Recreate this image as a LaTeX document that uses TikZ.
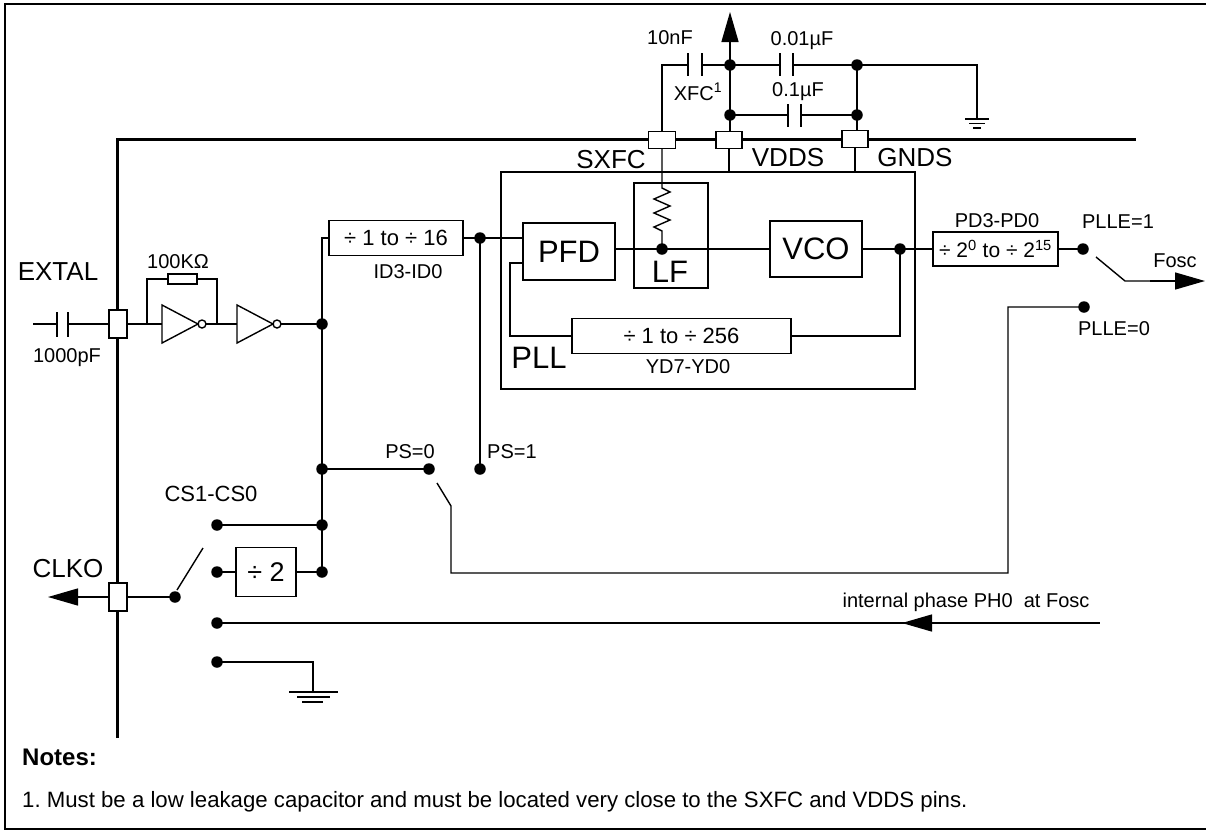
\documentclass[tikz,border=0pt]{standalone}
\usepackage{fontspec}
\setmainfont{Liberation Sans}
\usetikzlibrary{arrows.meta}
\frenchspacing
\begin{document}
\begin{tikzpicture}[x=1pt,y=-1pt,
  wire/.style={line width=1.4pt},
  chipline/.style={line width=3pt},
  blk/.style={draw,line width=1.4pt,inner sep=0pt,fill=white},
  pinbox/.style={draw,line width=1.4pt,fill=white,inner sep=0pt},
  jdot/.style={circle,fill=black,inner sep=0pt,minimum size=11.5pt},
  sm/.style={font=\fontsize{20}{24}\selectfont,inner sep=0pt},
  md/.style={font=\fontsize{22}{26}\selectfont,inner sep=0pt},
  lg/.style={font=\fontsize{26}{30}\selectfont,inner sep=0pt},
  xl/.style={font=\fontsize{31}{36}\selectfont,inner sep=0pt},
  arr/.style={-{Triangle[length=30pt,width=17pt]}}
]
\useasboundingbox (0,0) rectangle (1206,831);
% outer frame
\draw[line width=2.5pt] (1212,4) -- (5,4) -- (5,829) -- (1212,829);
% chip boundary
\draw[chipline] (117,738) -- (117,139) -- (1136,139);

% ---------- coordinates
\coordinate (vtop) at (730,65);
\coordinate (vmid) at (730,115);
\coordinate (gtop) at (857,65);
\coordinate (gmid) at (857,115);
\coordinate (gnd1) at (977,119);
\coordinate (lfdot) at (662,249);
\coordinate (vcodot) at (900,249);
\coordinate (fbc) at (510,263);
\coordinate (iddot) at (480,238);
\coordinate (ps1) at (480,469);
\coordinate (ps0) at (429,469);
\coordinate (n1) at (322,324);
\coordinate (n2) at (322,469);
\coordinate (n3) at (322,525);
\coordinate (n4) at (322,572);
\coordinate (plle1) at (1083,249);
\coordinate (plle0) at (1084,307);
\coordinate (sw) at (175,597);
\coordinate (c1) at (217,525);
\coordinate (c2) at (217,572);
\coordinate (c3) at (217,623);
\coordinate (c4) at (217,662);
\coordinate (gnd2) at (313,692);
\coordinate (phend) at (1100,623);
\coordinate (phtip) at (902,623);
\coordinate (fosc) at (1205,281);
\coordinate (vout) at (730,12);
\coordinate (clkout) at (48,597);

% ---------- blocks
\node[blk,fill=none,minimum width=414pt,minimum height=217pt] (pll) at (708,280.5) {};
\node[blk,minimum width=74pt,minimum height=105pt] (lf) at (671,235.5) {};
\node[blk,xl,minimum width=92pt,minimum height=57pt] (pfd) at (569,251.5) {PFD};
\node[blk,xl,minimum width=92pt,minimum height=56pt] (vco) at (816,249) {VCO};
\node[blk,md,minimum width=219pt,minimum height=35pt] (fbdiv) at (681.5,336) {÷ 1 to ÷ 256};
\node[blk,md,minimum width=134pt,minimum height=35pt] (iddiv) at (396,238) {÷ 1 to ÷ 16};
\node[blk,font=\fontsize{21}{25}\selectfont,minimum width=125pt,minimum height=34pt] (pddiv) at (995.5,249) {÷ 2\textsuperscript{0} to ÷ 2\textsuperscript{15}};
\node[blk,font=\fontsize{27}{31}\selectfont,minimum width=60pt,minimum height=49pt] (div2) at (266,572) {÷ 2};
\node[blk,minimum width=29pt,minimum height=10pt] (rfb) at (182.5,279) {};

% ---------- top supply network
\draw[wire,arr] (vtop) -- (vout);
\draw[wire] (662,139) -- (662,65) -- (688,65);
\draw[wire] (688,53) -- (688,76) (702,53) -- (702,76);
\draw[wire] (702,65) -- (vtop) -- (780,65);
\draw[wire] (780,53) -- (780,76) (793,53) -- (793,76);
\draw[wire] (793,65) -- (gtop) -| (gnd1);
\draw[wire] (vtop) -- (vmid) -- (788,115);
\draw[wire] (788,104) -- (788,127) (801,104) -- (801,127);
\draw[wire] (801,115) -- (gmid);
\draw[wire] (gtop) -- (gmid) -- (857,139);
\draw[wire] (vmid) -- (730,139);
\draw[wire] (965,119) -- (989,119) (969,123.5) -- (985,123.5) (973,128) -- (981,128);
% pins into PLL
\draw[wire] (729,139) -- (729,172);
\draw[wire] (855,139) -- (855,172);
\draw[wire] (662,139) -- (662,188) -- (670,192) -- (654,199) -- (670,206) -- (654,213) -- (670,220) -- (654,227) -- (662,231) -- (lfdot);

% ---------- PLL wiring
\draw[wire] (pfd.east |- lfdot) -- (lfdot) -- (vco.west |- lfdot);
\draw[wire] (vco.east) -- (vcodot) -- (pddiv.west);
\draw[wire] (vcodot) |- (fbdiv.east);
\draw[wire] (fbdiv.west) -| (fbc) -- (pfd.west |- fbc);
\draw[wire] (iddiv.east) -- (iddot) -- (pfd.west |- iddot);
\draw[wire] (iddot) -- (ps1);
\draw[wire] (pddiv.east) -- (plle1);
\draw[wire] (1096,257) -- (1125,281) -- (1170,281);
\draw[wire,arr] (1150,281) -- (fosc);
\draw[wire] (437,483) -- (451,506) -- (451,573) -- (1008,573) -- (1008,307) -- (plle0);

% ---------- EXTAL / oscillator
\draw[wire] (33,324) -- (57,324) (68,324) -- (109,324);
\draw[wire] (57,312) -- (57,337) (68,312) -- (68,337);
\draw[wire] (127,324) -- (162,324);
\draw[wire] (147,324) |- (rfb.west);
\draw[wire] (rfb.east) -| (217,324);
\draw[wire] (162,305) -- (162,343) -- (198,324) -- cycle;
\draw[wire] (202,324) circle (4);
\draw[wire] (206,324) -- (237,324);
\draw[wire] (237,305) -- (237,343) -- (273,324) -- cycle;
\draw[wire] (277,324) circle (4);
\draw[wire] (281,324) -- (n1);
\draw[wire] (iddiv.west) -| (n1);
\draw[wire] (n1) -- (n4);
\draw[wire] (n2) -- (ps0);

% ---------- CLKO selector
\draw[wire,arr] (109,597) -- (clkout);
\draw[wire] (127,597) -- (sw);
\draw[wire] (177,590) -- (203,548);
\draw[wire] (c1) -- (n3);
\draw[wire] (c2) -- (div2.west);
\draw[wire] (div2.east) -- (n4);
\draw[wire] (c3) -- (phend);
\draw[arr,line width=1.4pt] (1050,623) -- (phtip);
\draw[wire] (c4) -| (gnd2);
\draw[wire] (289,692) -- (338,692) (297,697) -- (330,697) (302,702) -- (323,702);

% ---------- pins
\node[pinbox,minimum width=27pt,minimum height=17pt] (pinsxfc) at (662,140) {};
\node[pinbox,minimum width=26pt,minimum height=17pt] (pinvdds) at (729,140) {};
\node[pinbox,minimum width=26pt,minimum height=17pt] (pingnds) at (855,139) {};
\node[pinbox,minimum width=18pt,minimum height=28pt] (pinextal) at (118,324) {};
\node[pinbox,minimum width=18pt,minimum height=28pt] (pinclko) at (118,597) {};

% ---------- dots
\foreach \p in {vtop,vmid,gtop,gmid,lfdot,vcodot,iddot,ps1,ps0,n1,n2,n3,n4,plle1,plle0,sw,c1,c2,c3,c4}
  \node[jdot] at (\p) {};

% ---------- labels
\node[sm,anchor=base] (l10n) at (670,44) {10nF};
\node[sm,anchor=base] (lxfc) at (698,100) {XFC\textsuperscript{1}};
\node[sm,anchor=base] (l001) at (802,45) {0.01µF};
\node[sm,anchor=base] (l01) at (798,96) {0.1µF};
\node[lg,anchor=base] (lsxfc) at (611,168) {SXFC};
\node[lg,anchor=base] (lvdds) at (788,166) {VDDS};
\node[lg,anchor=base] (lgnds) at (915,166) {GNDS};
\node[lg,anchor=base] (lextal) at (58,280) {EXTAL};
\node[sm,anchor=base] (lr) at (178,268) {100KΩ};
\node[sm,anchor=base] (lc) at (67,362) {1000pF};
\node[sm,anchor=base] (lid) at (408,278) {ID3-ID0};
\node[xl,anchor=base] (llf) at (670,282) {LF};
\node[xl,anchor=base] (lpll) at (539,368) {PLL};
\node[sm,anchor=base] (lyd) at (688,373) {YD7-YD0};
\node[sm,anchor=base] (lpd) at (997,227) {PD3-PD0};
\node[sm,anchor=base] (lplle1) at (1118,228) {PLLE=1};
\node[sm,anchor=base] (lfosc) at (1175,267) {Fosc};
\node[sm,anchor=base] (lplle0) at (1114,335) {PLLE=0};
\node[sm,anchor=base] (lps0) at (410,458) {PS=0};
\node[sm,anchor=base west] (lps1) at (487,458) {PS=1};
\node[md,anchor=base] (lcs) at (211,501) {CS1-CS0};
\node[lg,anchor=base] (lclko) at (68,577) {CLKO};
\node[sm,anchor=base] (lph) at (966,607) {internal phase PH0\ \ at Fosc};
\node[font=\fontsize{24}{28}\selectfont\bfseries,inner sep=0pt,anchor=base west] (lnotes) at (22,765) {Notes:};
\node[font=\fontsize{22.2}{27}\selectfont,inner sep=0pt,anchor=base west] (lnote1) at (22,807) {1. Must be a low leakage capacitor and must be located very close to the SXFC and VDDS pins.};
\end{tikzpicture}
\end{document}
